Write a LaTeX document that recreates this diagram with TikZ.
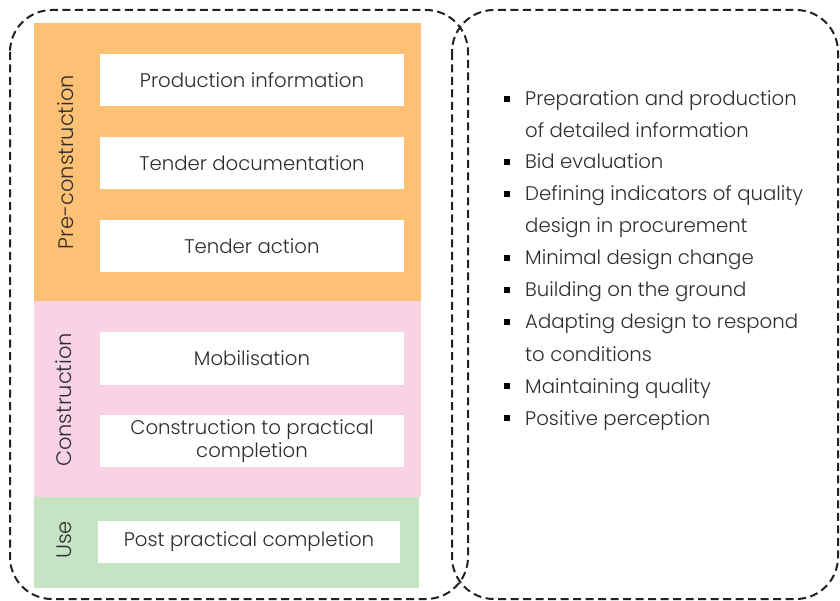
\documentclass[tikz,border=0pt]{standalone}
\usepackage{fontspec}
\setmainfont{Poppins}[UprightFont={* Light}]
\definecolor{orangeph}{HTML}{FDC176}
\definecolor{pinkph}{HTML}{F9D3E4}
\definecolor{greenph}{HTML}{C6E3C3}
\definecolor{txt}{HTML}{2E2E2E}
\definecolor{dashc}{HTML}{222222}
\tikzset{
  phase/.style={draw=none, anchor=north west, inner sep=0pt},
  stagebox/.style={fill=white, draw=none, inner sep=0pt, align=center, text=txt, font=\fontsize{19.7}{23}\selectfont},
  phaselabel/.style={rotate=90, text=txt, font=\fontsize{21}{23}\selectfont, inner sep=0pt},
  outline/.style={draw=dashc, line width=2pt, dash pattern=on 8pt off 4.5pt, rounded corners=42pt},
  listline/.style={anchor=base west, text=txt, font=\fontsize{19.7}{23}\selectfont, inner sep=0pt},
  bulletsq/.style={fill=black, draw=none, minimum size=6pt, inner sep=0pt}
}
\begin{document}
\begin{tikzpicture}[x=1pt,y=-1pt]
\useasboundingbox (0,0) rectangle (840,601);
% phase bands
\fill[orangeph] (34,23) rectangle (421,301);
\fill[pinkph] (34,301) rectangle (421,497);
\fill[greenph] (34,497) rectangle (419,588);
\node[phase, minimum width=387pt, minimum height=278pt] (pre) at (34,23) {};
\node[phase, minimum width=387pt, minimum height=196pt] (con) at (34,301) {};
\node[phase, minimum width=385pt, minimum height=91pt] (use) at (34,497) {};
% stage boxes
\node[stagebox, minimum width=304pt, minimum height=52pt] (s1) at (252,80) {Production information};
\node[stagebox, minimum width=304pt, minimum height=52pt] (s2) at (252,163) {Tender documentation};
\node[stagebox, minimum width=304pt, minimum height=52pt] (s3) at (252,246) {Tender action};
\node[stagebox, minimum width=304pt, minimum height=53pt] (s4) at (252,358.5) {Mobilisation};
\node[stagebox, minimum width=304pt, minimum height=52pt] (s5) at (252,441) {Construction to practical\\completion};
\node[stagebox, minimum width=302pt, minimum height=42pt] (s6) at (249,542) {Post practical completion};
% phase labels
\node[phaselabel] (l1) at (66,162) {Pre-construction};
\node[phaselabel] (l2) at (64,400) {Construction};
\node[phaselabel] (l3) at (64,540) {Use};
% dashed outlines
\draw[outline] (10,10) rectangle (468,599);
\draw[outline] (452,10) rectangle (838,599);
% list
\foreach \yy in {99,162,194,258,290,322,386,418}
  \node[bulletsq] at (507,\yy) {};
\node[listline] (t1) at (525,106) {Preparation and production};
\node[listline] (t1b) at (525,138) {of detailed information};
\node[listline] (t2) at (525,169) {Bid evaluation};
\node[listline] (t3) at (525,201) {Defining indicators of quality};
\node[listline] (t3b) at (525,233) {design in procurement};
\node[listline] (t4) at (525,265) {Minimal design change};
\node[listline] (t5) at (525,297) {Building on the ground};
\node[listline] (t6) at (525,329) {Adapting design to respond};
\node[listline] (t6b) at (525,361) {to conditions};
\node[listline] (t7) at (525,393) {Maintaining quality};
\node[listline] (t8) at (525,425) {Positive perception};
\end{tikzpicture}
\end{document}
